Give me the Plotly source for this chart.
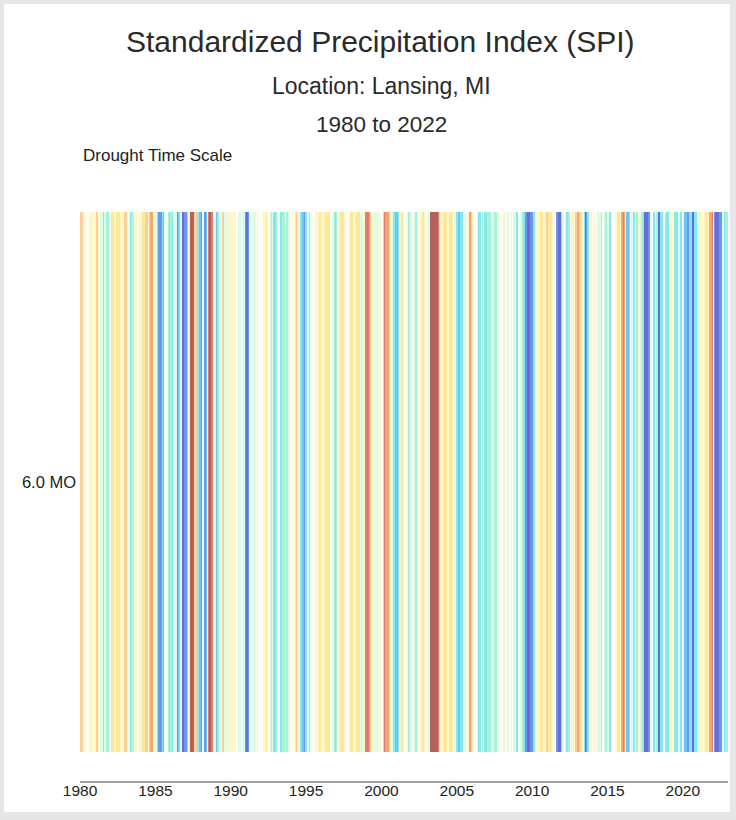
import pandas as pd
import plotly.graph_objects as go

# ---- data -------------------------------------------------------------
start_month = "1980-01-01"
time_scale = ["6.0 MO"]
year_ticks = [1980, 1985, 1990, 1995, 2000, 2005, 2010, 2015, 2020]

# 6-month SPI, monthly Jan 1980 .. Dec 2022
spi_6mo = [
    -1.0, -1.0, -0.35, -0.35, 0.0, 0.0, 0.0, -0.35, -0.35, -0.35, 0.0, -0.35,   # 1980
    0.0, -1.0, -0.35, 0.0, 0.3, 0.3, 1.1, 0.3, 0.3, 0.7, 0.7, 0.3,              # 1981
    0.0, -0.75, -0.75, -0.35, -0.35, -0.75, -0.75, -0.75, -0.35, -0.35, -0.35, -1.0,  # 1982
    -1.0, -0.35, 0.0, 0.3, 1.1, 0.7, -0.75, -0.35, -0.35, 0.0, 0.0, -0.35,      # 1983
    -0.35, -0.75, -0.75, -0.75, -1.0, -1.0, -0.35, -1.0, -1.3, -1.3, -0.35, -0.35,  # 1984
    0.3, 1.1, 1.8, 1.8, 1.8, 1.1, 1.5, 0.3, 0.0, 0.0, 0.7, 1.1,                 # 1985
    0.7, 1.1, 0.3, 0.3, 0.3, 1.8, 1.5, 1.1, 0.3, 2.3, 2.3, 1.8,                 # 1986
    1.8, 1.1, -0.35, -0.35, -2.3, -2.3, -2.3, -1.0, -1.0, 0.9, 1.1, 1.5,        # 1987
    1.8, 0.0, 0.3, 1.8, 1.5, -0.35, -1.8, -2.3, -1.8, -1.8, -0.35, 0.3,         # 1988
    1.5, 1.1, 0.7, 0.3, 0.0, -1.0, -1.0, 0.3, 0.3, 0.3, -0.35, -0.35,           # 1989
    -0.35, -0.35, 0.0, -0.35, 0.0, 0.0, 0.3, 0.3, 0.0, 0.3, 0.3, 1.8,           # 1990
    2.3, 2.3, 1.8, 0.3, 0.0, 0.3, 0.3, 0.3, 0.0, 0.3, 0.0, 0.0,                 # 1991
    0.0, 0.0, -0.35, -0.35, -0.75, -0.35, 0.0, 0.3, 0.7, 0.3, 1.1, 1.1,         # 1992
    0.7, 0.3, 0.0, 1.1, 1.1, 0.7, 0.7, 0.3, 0.7, 0.7, 0.3, 0.0,                 # 1993
    0.0, -0.35, 0.0, -0.75, -1.0, -0.75, -0.35, 1.1, 1.1, 1.5, 1.8, 1.1,        # 1994
    1.1, 0.3, 0.7, 0.3, 0.0, 0.0, 0.0, -0.35, -0.35, -0.35, -0.75, -0.75,       # 1995
    -0.35, -0.35, -0.35, -0.75, -0.75, -0.75, -0.75, 0.0, 0.0, 0.3, 0.7, 1.1,   # 1996
    0.7, 0.0, -0.35, -0.75, -0.75, -0.75, -0.35, -0.35, 0.0, 0.0, -0.35, -0.75, # 1997
    -0.75, -0.35, -0.35, -0.35, -0.75, -0.75, -0.75, 0.3, 0.3, 0.0, -0.35, -1.8,  # 1998
    -1.8, -1.8, -1.3, -1.0, -0.35, 0.3, 0.3, 0.3, 0.3, -0.35, -0.35, 0.0,       # 1999
    0.0, -1.0, -1.8, -1.3, -1.3, -1.3, -1.0, -0.35, 0.3, 1.1, 1.1, 1.5,         # 2000
    1.5, 1.1, 0.3, -0.35, -0.75, -0.35, 0.0, 0.0, 0.3, 0.7, 0.7, 0.3,           # 2001
    0.0, 0.0, 0.3, 0.7, 0.3, 0.0, 0.0, -0.35, -0.75, -0.75, -0.35, 0.0,         # 2002
    -0.35, 0.3, -0.35, -2.3, -2.3, -2.3, -2.3, -2.3, -2.3, -1.8, -1.0, -0.35,   # 2003
    -0.35, -0.75, -0.75, -0.75, -0.35, -0.35, -0.75, -0.75, -0.75, 0.0, 0.3, 1.1,  # 2004
    1.1, 1.5, 1.5, 1.1, 1.1, 0.3, 0.3, 0.0, -0.35, -0.35, -1.3, -1.0,           # 2005
    -0.35, -0.35, 0.0, 0.0, 0.3, 1.1, 1.1, 0.3, 0.7, 0.0, 1.1, 1.1,             # 2006
    0.7, 0.7, 0.7, 0.3, 0.3, 0.3, 0.7, 0.7, 0.3, 0.3, 0.0, 0.0,                 # 2007
    0.0, -0.35, -0.35, 0.0, 0.3, 0.3, 0.0, 0.3, 0.0, 0.3, 0.3, 1.1,             # 2008
    1.1, 0.0, 0.3, 0.3, 0.7, 1.1, 1.8, 1.8, 2.3, 2.3, 1.8, 1.8,                 # 2009
    1.8, 1.1, 0.3, -0.35, -0.35, -0.35, -0.75, -0.75, -0.75, -0.35, -0.35, -1.0,  # 2010
    -1.0, -0.75, -0.75, -0.75, -0.35, 0.0, 0.0, 1.8, 1.8, 2.3, 2.3, 1.1,        # 2011
    0.3, 0.0, 0.3, 1.1, 1.1, 0.7, 0.0, -0.35, -0.35, -0.35, -1.0, -1.0,         # 2012
    -1.3, -1.0, -1.0, -0.75, -0.35, 1.1, 2.3, 1.8, 1.1, 0.3, -0.35, -0.35,      # 2013
    0.0, -0.35, 0.0, 0.0, 0.3, 0.3, 0.3, 0.7, 0.0, 0.3, 0.7, 0.7,               # 2014
    0.3, 1.1, 1.1, 0.3, 0.0, 0.0, -0.35, -0.35, -0.75, -0.75, -0.35, -1.3,      # 2015
    -1.8, -1.3, 0.0, 1.5, 1.5, 1.1, 0.0, 0.3, 1.1, 1.1, 0.3, 0.7,               # 2016
    -0.35, -0.35, 0.3, 0.7, 1.1, 2.3, 2.3, 2.3, 1.8, 1.8, 0.3, 0.0,             # 2017
    1.1, 1.1, 0.3, 0.7, 2.3, 2.3, 1.1, 1.1, -0.35, 0.0, 0.7, 1.1,               # 2018
    1.1, -0.35, -0.35, -0.35, 0.0, 1.1, 1.1, 1.1, 0.3, 0.3, 1.1, 0.0,           # 2019
    0.3, 1.5, 1.5, 1.8, 1.8, 1.1, 1.1, 2.3, 2.3, 1.1, 1.1, 0.3,                 # 2020
    0.3, 0.3, -0.35, -0.35, 0.0, -0.35, -0.75, -0.75, -0.35, -1.3, -1.3, -1.8,  # 2021
    -0.35, 1.8, 2.3, 2.3, 2.3, 1.8, 1.8, 0.3, 0.0, 1.1, 0.7, 0.7,               # 2022
]

# ---- figure -----------------------------------------------------------
months = pd.date_range(start_month, periods=len(spi_6mo), freq="MS") + pd.Timedelta(days=14)

zmin, zmax = -2.5, 2.5
stops = [(-2.5, "#a85852"), (-2.3, "#b2625c"), (-1.8, "#e77a68"), (-1.3, "#f3a572"),
         (-1.0, "#f9cf9c"), (-0.75, "#fde79a"), (-0.35, "#fff6c8"), (0.0, "#fefef4"),
         (0.3, "#dcfbe9"), (0.7, "#a6f2d7"), (1.1, "#86e8ee"), (1.5, "#6ec4f4"),
         (1.8, "#6e96ea"), (2.3, "#666fd8"), (2.5, "#5f66cf")]
colorscale = [[(v - zmin) / (zmax - zmin), c] for v, c in stops]

fig = go.Figure(go.Heatmap(
    z=[spi_6mo], x=months, y=time_scale,
    colorscale=colorscale, zmin=zmin, zmax=zmax, showscale=False,
))

L, R, T, B = 80, 8, 212, 41
W, H = 736, 820
pw, ph = W - L - R, H - T - B
heat_bottom = 752      # px where the colour strip ends
axis_line_y = 782      # px of the baseline under the strip

def px(xp):
    return (xp - L) / pw

def py(yp):
    return (H - B - yp) / ph

font = "Liberation Sans, Arial, Helvetica, sans-serif"
txt = "#2a2a2a"
strip_h = heat_bottom - T
gap = (H - B) - heat_bottom

fig.update_layout(
    width=W, height=H,
    margin=dict(l=L, r=R, t=T, b=B),
    paper_bgcolor="#e6e6e6",
    plot_bgcolor="white",
    font=dict(family=font, color="#222222", size=15),
    showlegend=False,
    xaxis=dict(
        type="date",
        range=["1980-01-01", "2023-01-01"],
        tickvals=[f"{y}-01-01" for y in year_ticks],
        ticktext=[str(y) for y in year_ticks],
        showline=False, showgrid=False, zeroline=False, ticks="",
        tickfont=dict(size=15.5, color="#222222"),
    ),
    yaxis=dict(
        range=[-0.5 - gap / strip_h, 0.5],
        showgrid=False, zeroline=False, showline=False, ticks="",
        ticklabelstandoff=3,
        tickfont=dict(size=16.5, color="#222222"),
    ),
    shapes=[
        dict(type="rect", xref="paper", yref="paper", layer="below",
             x0=px(4), x1=px(730), y0=py(812), y1=py(4),
             fillcolor="white", line=dict(width=0)),
        dict(type="line", xref="paper", yref="paper", layer="above",
             x0=0, x1=1, y0=py(axis_line_y), y1=py(axis_line_y),
             line=dict(color="#444444", width=1)),
    ],
    annotations=[
        dict(text="Standardized Precipitation Index (SPI)", x=px(380), y=py(42),
             xref="paper", yref="paper", showarrow=False, xanchor="center", yanchor="middle",
             font=dict(size=30, color=txt)),
        dict(text="Location: Lansing, MI", x=px(381), y=py(86),
             xref="paper", yref="paper", showarrow=False, xanchor="center", yanchor="middle",
             font=dict(size=23, color=txt)),
        dict(text="1980 to 2022", x=px(381), y=py(124),
             xref="paper", yref="paper", showarrow=False, xanchor="center", yanchor="middle",
             font=dict(size=22.5, color=txt)),
        dict(text="Drought Time Scale", x=px(81), y=py(155),
             xref="paper", yref="paper", showarrow=False, xanchor="left", yanchor="middle",
             font=dict(size=17, color="#222222")),
    ],
)

fig.write_html(
    "out.html",
    config={"displayModeBar": False},
    post_script="document.body.style.margin='0';document.body.style.background='#e6e6e6';",
)
